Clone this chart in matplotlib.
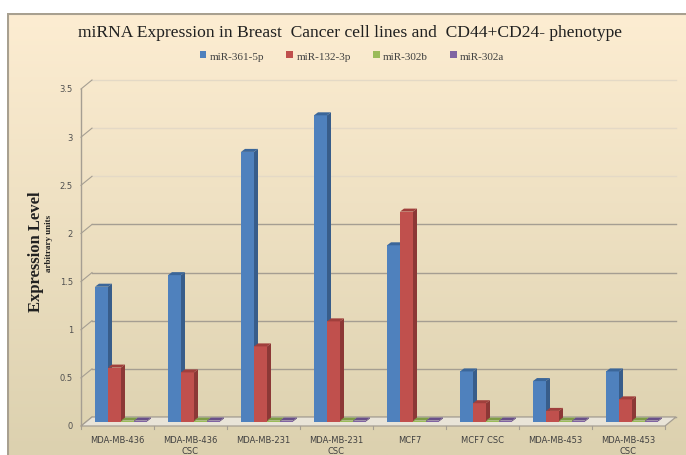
import numpy as np
import matplotlib.pyplot as plt
from matplotlib.patches import Polygon, Rectangle

# expression levels (arbitrary units) per cell line
cell_lines = ["MDA-MB-436", "MDA-MB-436\nCSC", "MDA-MB-231", "MDA-MB-231\nCSC",
              "MCF7", "MCF7 CSC", "MDA-MB-453", "MDA-MB-453\nCSC"]
mir_361_5p = [1.40, 1.52, 2.80, 3.18, 1.83, 0.52, 0.42, 0.52]
mir_132_3p = [0.56, 0.51, 0.78, 1.04, 2.18, 0.19, 0.11, 0.23]
mir_302b = [0.01, 0.01, 0.01, 0.01, 0.01, 0.01, 0.01, 0.01]
mir_302a = [0.01, 0.01, 0.01, 0.01, 0.01, 0.01, 0.01, 0.01]
series_names = ["miR-361-5p", "miR-132-3p", "miR-302b", "miR-302a"]
y_ticks = [0, 0.5, 1, 1.5, 2, 2.5, 3, 3.5]

series = [mir_361_5p, mir_132_3p, mir_302b, mir_302a]
front_cols = ["#4F81BD", "#C0504D", "#9BBB59", "#8064A2"]
side_cols = ["#385D8A", "#8C3836", "#71893F", "#5C4776"]
top_cols = ["#3B6699", "#A03F3C", "#7E9C45", "#684F88"]

W, H = 686, 456
fig = plt.figure(figsize=(W / 100, H / 100), dpi=100)

# chart area background: cream gradient with border on left/top
bg = fig.add_axes([7 / W, 0, (W - 7) / W, (H - 14) / H])
top = np.array([253, 237, 210]) / 255
bot = np.array([220, 209, 175]) / 255
t = np.linspace(0, 1, 256)[:, None]
grad = (top * (1 - t) + bot * t)[:, None, :]
bg.imshow(grad, aspect="auto", extent=[0, 1, 0, 1])
bg.set_xlim(0, 1)
bg.set_ylim(0, 1)
bg.axis("off")
bg.plot([0.001, 0.001], [0, 1], color="#A8A090", lw=1.5)
bg.plot([0, 1], [0.998, 0.998], color="#A8A090", lw=1.5)

# plot plane (mid depth of the pseudo-3D floor)
ncat = len(cell_lines)
ax = fig.add_axes([86.5 / W, (H - 422.5) / H, 584 / W, 337 / H])
ax.set_xlim(0, ncat)
ax.set_ylim(0, 3.5)
ax.axis("off")
PX = ncat / 584.0      # data x per pixel
PY = 3.5 / 337.0       # data y per pixel
fx, fy = 5.5 * PX, 4.5 * PY   # offset to front edge
bx, by = 5.5 * PX, 4.5 * PY   # offset to back wall

# back wall gridlines
for v in y_ticks:
    c = "#E4D9C6" if v > 2 else "#A59E92"
    ax.plot([bx, ncat + bx], [v + by, v + by], color=c, lw=1, clip_on=False, zorder=1)
    ax.plot([-fx, bx], [v - fy, v + by], color="#A59E92", lw=0.8, clip_on=False, zorder=1)
    ax.text(-fx - 8 * PX, v - fy, f"{v:g}", ha="right", va="center",
            fontsize=6, color="#505050")
ax.plot([-fx, -fx], [-fy, 3.5 - fy], color="#A59E92", lw=1, clip_on=False, zorder=1)

# floor
floor = Polygon([(-fx, -fy), (ncat - fx, -fy), (ncat + bx, by), (bx, by)],
                closed=True, facecolor="#E9E4D8", edgecolor="#A59E92", lw=0.9,
                clip_on=False, zorder=2)
ax.add_patch(floor)
for i in range(ncat + 1):
    ax.plot([i - fx, i - fx], [-fy, -fy - 3 * PY], color="#A59E92", lw=0.8,
            clip_on=False, zorder=2)

# bars with side and top faces
bw = 13 * PX
sd, tz = 4 * PX, 3 * PY
z = 3
for i in range(ncat):
    for k, vals in enumerate(series):
        v = vals[i]
        x0 = i + 8.5 * PX + k * bw
        x1 = x0 + bw
        ax.add_patch(Rectangle((x0, 0), bw, v, facecolor=front_cols[k],
                               edgecolor="none", clip_on=False, zorder=z))
        ax.add_patch(Polygon([(x1, 0), (x1, v), (x1 + sd, v + tz), (x1 + sd, tz)],
                             closed=True, facecolor=side_cols[k], edgecolor="none",
                             clip_on=False, zorder=z))
        ax.add_patch(Polygon([(x0, v), (x1, v), (x1 + sd, v + tz), (x0 + sd, v + tz)],
                             closed=True, facecolor=top_cols[k], edgecolor="none",
                             clip_on=False, zorder=z))
        z += 1
    ax.text(i + 0.5 - fx, -fy - 9 * PY, cell_lines[i], ha="center", va="top",
            fontsize=6, color="#404040", linespacing=1.35)

# titles and legend
fig.text(0.51, 1 - 33 / H,
         "miRNA Expression in Breast  Cancer cell lines and  CD44+CD24- phenotype",
         ha="center", va="center", fontsize=12.6, family="Liberation Serif",
         color="#202020")
handles = [Rectangle((0, 0), 1, 1, facecolor=c) for c in front_cols]
fig.legend(handles, series_names, loc="center", bbox_to_anchor=(0.513, 1 - 57 / H),
           ncol=4, frameon=False, handlelength=0.6, handleheight=0.6,
           handletextpad=0.3, columnspacing=2.0,
           prop={"family": "Liberation Serif", "size": 8}, labelcolor="#404040")
fig.text(36 / W, 1 - 252 / H, "Expression Level", rotation=90, ha="center",
         va="center", fontsize=12, family="Liberation Serif", weight="bold",
         color="#202020")
fig.text(49 / W, 1 - 243 / H, "arbitrary units", rotation=90, ha="center",
         va="center", fontsize=6.5, family="Liberation Serif", weight="bold",
         color="#202020")

fig.savefig("out.png", dpi=100)
